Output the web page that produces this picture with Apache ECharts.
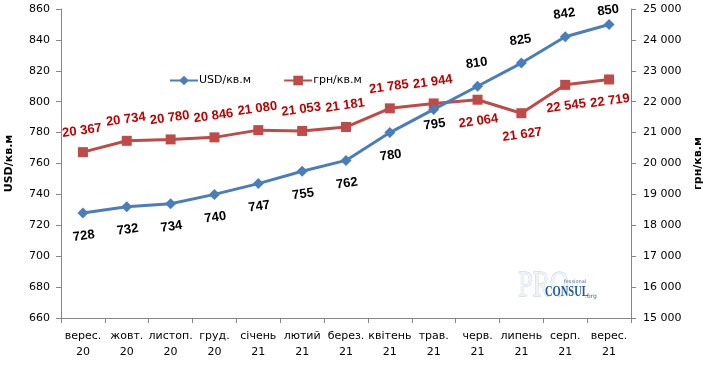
<!DOCTYPE html>
<html><head><meta charset="utf-8">
<script src="https://cdn.jsdelivr.net/npm/echarts@6/dist/echarts.min.js"></script>
<style>html,body{margin:0;padding:0;background:#fff}#c{width:703px;height:374px}</style>
</head><body><div id="c"></div>
<script>
var categories = ['верес.\n20','жовт.\n20','листоп.\n20','груд.\n20','січень\n21','лютий\n21','берез.\n21','квітень\n21','трав.\n21','черв.\n21','липень\n21','серп.\n21','верес.\n21'];
var usdValues = [728,732,734,740,747,755,762,780,795,810,825,842,850];
var uahValues = [20367,20734,20780,20846,21080,21053,21181,21785,21944,22064,21627,22545,22719];
var usdName = 'USD/кв.м';
var uahName = 'грн/кв.м';

function fmtSpace(v){ return String(v).replace(/\B(?=(\d{3})+(?!\d))/g,' '); }
var labelFont = {fontFamily:'Liberation Sans', fontWeight:'bold', fontSize:13};
var usdData = usdValues.map(function(v,i){
  var lab = {position: i>=9 ? 'top':'bottom'};
  if (i === usdValues.length-1) lab.distance = 2;
  if (i === 8) lab.distance = 3;
  return {value:v, label:lab};
});
var uahData = uahValues.map(function(v,i){
  return {value:v, label:{position: i>=9 ? 'bottom':'top'}};
});
var axisTxt = {fontFamily:'DejaVu Sans', fontSize:11, color:'#000'};
var chart = echarts.init(document.getElementById('c'), null, {renderer:'canvas'});
chart.setOption({
  animation:false,
  backgroundColor:'#fff',
  grid:{left:61, right:72, top:9, bottom:56, containLabel:false, outerBoundsMode:'none'},
  legend:{
    left:164, top:70, itemWidth:28, itemHeight:12, itemGap:32,
    textStyle:{fontFamily:'DejaVu Sans', fontSize:11, color:'#000', padding:[0,0,0,-4]},
    data:[usdName, uahName]
  },
  xAxis:{
    type:'category', data:categories, boundaryGap:true,
    axisLine:{lineStyle:{color:'#868686', width:1}},
    axisTick:{show:true, length:5, lineStyle:{color:'#868686'}},
    axisLabel:Object.assign({margin:10, lineHeight:16, interval:0}, axisTxt)
  },
  yAxis:[{
    type:'value', min:660, max:860, interval:20, position:'left',
    name:usdName, nameLocation:'middle', nameGap:46, nameRotate:90,
    nameTextStyle:{fontFamily:'DejaVu Sans', fontSize:11, fontWeight:'bold', color:'#000'},
    splitLine:{show:false},
    axisLine:{show:true, lineStyle:{color:'#868686'}},
    axisTick:{show:true, length:5, lineStyle:{color:'#868686'}},
    axisLabel:Object.assign({margin:11}, axisTxt)
  },{
    type:'value', min:15000, max:25000, interval:1000, position:'right',
    name:uahName, nameLocation:'middle', nameGap:62, nameRotate:90,
    nameTextStyle:{fontFamily:'DejaVu Sans', fontSize:11, fontWeight:'bold', color:'#000'},
    splitLine:{show:false},
    axisLine:{show:true, lineStyle:{color:'#868686'}},
    axisTick:{show:true, length:5, lineStyle:{color:'#868686'}},
    axisLabel:Object.assign({margin:12, formatter:function(v){return fmtSpace(v);}}, axisTxt)
  }],
  series:[{
    name:usdName, type:'line', yAxisIndex:0, data:usdData,
    symbol:'diamond', symbolSize:11,
    lineStyle:{color:'#4A7EBB', width:3},
    itemStyle:{color:'#4A7EBB'},
    label:Object.assign({show:true, color:'#000', distance:11, rotate:8}, labelFont),
    labelLayout:{hideOverlap:false},
    z:3
  },{
    name:uahName, type:'line', yAxisIndex:1, data:uahData,
    symbol:'rect', symbolSize:10,
    lineStyle:{color:'#BE4B48', width:3},
    itemStyle:{color:'#BE4B48'},
    label:Object.assign({show:true, color:'#C00000', distance:10, rotate:8, formatter:function(p){return fmtSpace(p.value);}}, labelFont),
    labelLayout:{hideOverlap:false},
    z:2
  }],
  graphic:[
    {type:'text', left:518, top:268, z:0, style:{text:'PRO', font:'36px "Liberation Serif"', fill:'#f0f4f8', stroke:'#bccbdb', lineWidth:0.8}, scaleX:0.72},
    {type:'text', left:564, top:279, z:1, style:{text:'fessional', font:'5px "DejaVu Sans"', fill:'#4a6f96'}},
    {type:'text', left:545, top:285, z:1, style:{text:'CONSUL', font:'bold 15px "Liberation Serif"', fill:'#1f5a96'}, scaleX:0.7},
    {type:'text', left:585, top:293, z:1, style:{text:'.org', font:'6px "DejaVu Sans"', fill:'#4a6f96'}}
  ]
});
</script></body></html>
